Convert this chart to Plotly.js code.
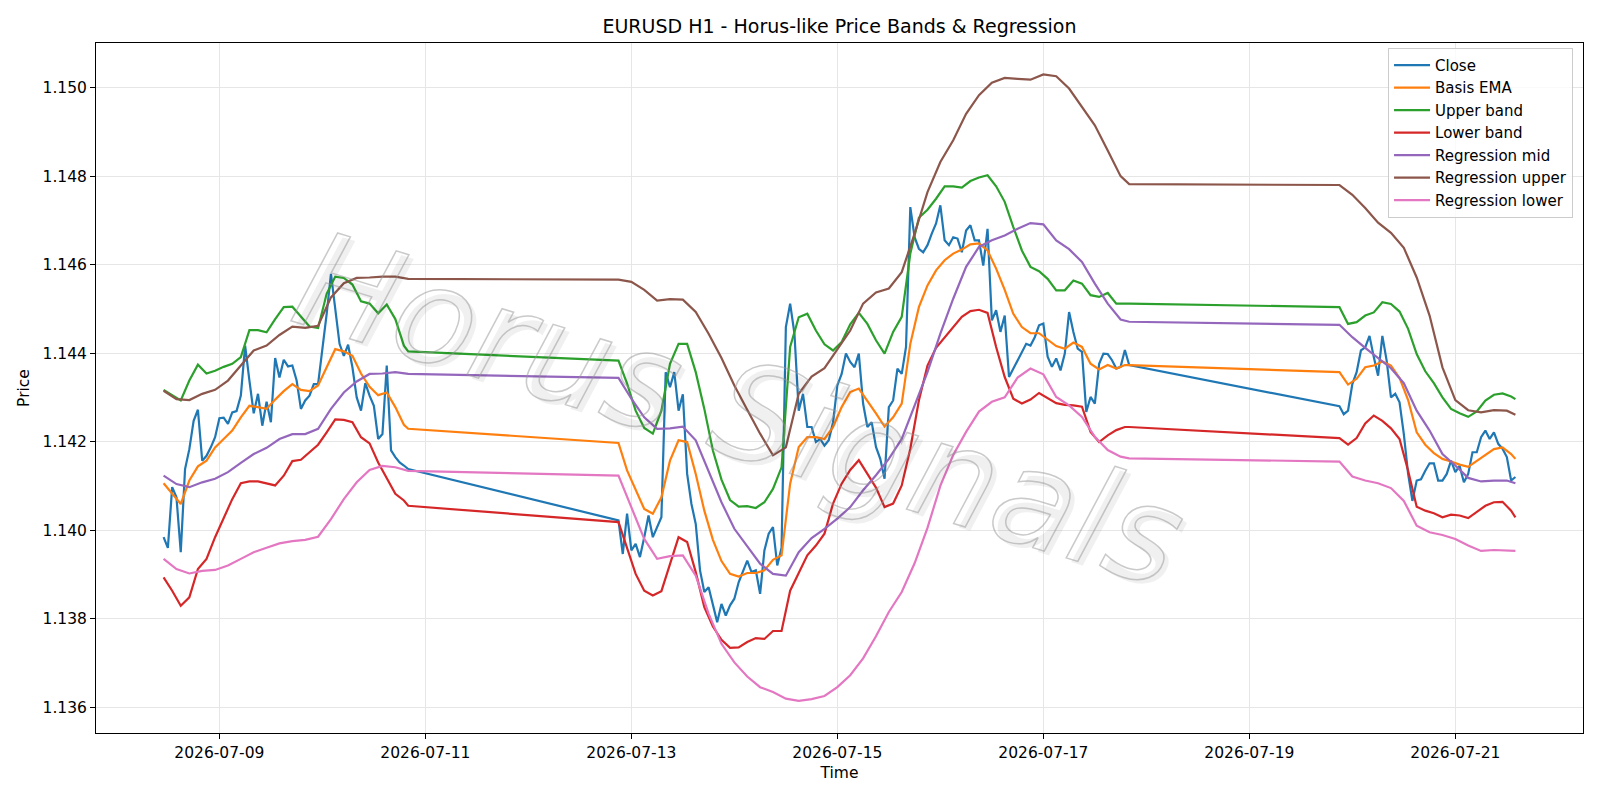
<!DOCTYPE html>
<html>
<head>
<meta charset="utf-8">
<script src="https://cdn.plot.ly/plotly-3.0.1.min.js"></script>
<style>
html,body{margin:0;padding:0;background:#fff;}
#chart{width:1600px;height:800px;}
</style>
</head>
<body>
<div id="chart"></div>
<script>
// ---- time structure (hour offsets from 2026-07-09 00:00) ----
const sessions = [[-13, 44], [93, 212], [261, 302]];

// ---- Close (hourly) ----
const closeS1 = [1.13984,1.13960,1.14097,1.14074,1.13950,1.14138,1.14183,1.14247,1.14272,1.14157,1.14168,1.14187,1.14210,
1.14253,1.14254,1.14240,1.14266,1.14269,1.14304,1.14417,1.14338,1.14264,1.14308,1.14236,1.14290,1.14244,1.14389,1.14345,
1.14385,1.14370,1.14372,1.14338,1.14274,1.14293,1.14304,1.14330,1.14330,1.14406,1.14489,1.14579,1.14504,1.14421,1.14394,
1.14419,1.14368,1.14300,1.14270,1.14332,1.14304,1.14281,1.14206,1.14217,1.14372,1.14180,1.14165,1.14153,1.14146,1.14138];
const closeS2 = [1.14022,1.13946,1.14037,1.13954,1.13969,1.13939,1.13984,1.14033,1.13984,1.14007,1.14029,1.14357,1.14323,
1.14357,1.14270,1.14307,1.14127,1.14059,1.14014,1.13909,1.13860,1.13871,1.13833,1.13792,1.13833,1.13807,1.13830,1.13845,
1.13882,1.13909,1.13931,1.13905,1.13909,1.13856,1.13954,1.13992,1.14007,1.13920,1.13960,1.14459,1.14512,1.14444,1.14270,
1.14308,1.14233,1.14233,1.14199,1.14206,1.14191,1.14203,1.14244,1.14327,1.14353,1.14399,1.14380,1.14368,1.14399,1.14286,
1.14233,1.14244,1.14188,1.14161,1.14116,1.14278,1.14293,1.14365,1.14353,1.14414,1.14730,1.14662,1.14636,1.14628,1.14644,
1.14670,1.14693,1.14734,1.14655,1.14644,1.14662,1.14659,1.14628,1.14677,1.14689,1.14655,1.14655,1.14598,1.14681,1.14474,
1.14497,1.14448,1.14485,1.14346,1.14365,1.14384,1.14402,1.14421,1.14417,1.14436,1.14463,1.14467,1.14392,1.14369,1.14388,
1.14361,1.14399,1.14493,1.14448,1.14410,1.14403,1.14267,1.14301,1.14286,1.14376,1.14399,1.14398,1.14384,1.14365,1.14369,
1.14407,1.14373];
const closeS3 = [1.14280,1.14262,1.14270,1.14330,1.14357,1.14406,1.14413,1.14439,1.14391,1.14349,1.14439,1.14383,1.14300,
1.14308,1.14289,1.14217,1.14127,1.14066,1.14112,1.14115,1.14134,1.14151,1.14151,1.14112,1.14112,1.14127,1.14157,1.14131,
1.14145,1.14108,1.14127,1.14176,1.14176,1.14210,1.14225,1.14206,1.14221,1.14195,1.14184,1.14165,1.14112,1.14120];

// ---- Bands (every 2 hours) ----
const emaS1 = [1.14106,1.14083,1.14059,1.14112,1.14144,1.14157,1.14187,1.14206,1.14225,1.14255,1.14281,1.14278,1.14274,1.14295,
1.14314,1.14330,1.14317,1.14314,1.14327,1.14368,1.14409,1.14404,1.14394,1.14354,1.14324,1.14305,1.14311,1.14278,1.14238,1.14229];
const emaS2 = [1.14197,1.14135,1.14090,1.14048,1.14037,1.14074,1.14157,1.14203,1.14199,1.14127,
1.14044,1.13978,1.13930,1.13901,1.13895,1.13903,1.13903,1.13909,1.13933,1.13943,
1.14105,1.14188,1.14210,1.14210,1.14206,1.14233,1.14278,1.14312,1.14320,1.14293,
1.14264,1.14234,1.14255,1.14286,1.14421,1.14504,1.14553,1.14587,1.14610,1.14625,
1.14634,1.14646,1.14648,1.14632,1.14591,1.14543,1.14489,1.14459,1.14445,1.14445,
1.14430,1.14416,1.14410,1.14424,1.14414,1.14376,1.14363,1.14373,1.14365,1.14373,1.14373];
const emaS3 = [1.14357,1.14329,1.14342,1.14368,1.14372,1.14381,1.14372,1.14344,1.14294,1.14221,1.14193,1.14174,1.14161,
1.14155,1.14148,1.14143,1.14157,1.14170,1.14183,1.14187,1.14172,1.14161];

const upperS1 = [1.14317,1.14304,1.14293,1.14338,1.14374,1.14354,1.14360,1.14369,1.14376,1.14391,1.14452,1.14452,1.14447,1.14477,
1.14504,1.14505,1.14482,1.14460,1.14457,1.14534,1.14573,1.14570,1.14555,1.14517,1.14512,1.14490,1.14510,1.14477,1.14417,1.14404];
const upperS2 = [1.14383,1.14331,1.14270,1.14231,1.14218,1.14270,1.14376,1.14421,1.14421,1.14357,
1.14274,1.14180,1.14114,1.14068,1.14053,1.14054,1.14050,1.14063,1.14093,1.14142,
1.14414,1.14481,1.14489,1.14451,1.14420,1.14406,1.14425,1.14465,1.14491,1.14466,
1.14429,1.14399,1.14448,1.14482,1.14625,1.14706,1.14724,1.14749,1.14777,1.14777,
1.14774,1.14789,1.14797,1.14802,1.14777,1.14742,1.14685,1.14632,1.14595,1.14585,
1.14568,1.14542,1.14542,1.14564,1.14557,1.14531,1.14527,1.14536,1.14512,1.14512,1.14512];
const upperS3 = [1.14504,1.14466,1.14470,1.14485,1.14492,1.14515,1.14511,1.14494,1.14455,1.14398,1.14359,1.14332,1.14300,
1.14274,1.14264,1.14256,1.14268,1.14293,1.14306,1.14309,1.14302,1.14296];

const lowerS1 = [1.13893,1.13863,1.13829,1.13848,1.13912,1.13935,1.13984,1.14029,1.14070,1.14106,1.14110,1.14110,1.14106,1.14101,
1.14123,1.14156,1.14159,1.14176,1.14193,1.14221,1.14250,1.14249,1.14244,1.14210,1.14196,1.14153,1.14116,1.14082,1.14067,1.14055];
const lowerS2 = [1.14018,1.13961,1.13901,1.13863,1.13852,1.13862,1.13924,1.13984,1.13973,1.13905,
1.13826,1.13782,1.13752,1.13734,1.13735,1.13747,1.13756,1.13754,1.13772,1.13772,
1.13863,1.13905,1.13943,1.13965,1.13992,1.14060,1.14105,1.14136,1.14158,1.14127,
1.14096,1.14052,1.14060,1.14101,1.14184,1.14293,1.14372,1.14412,1.14436,1.14459,
1.14482,1.14495,1.14498,1.14491,1.14414,1.14346,1.14297,1.14286,1.14295,1.14310,
1.14299,1.14287,1.14283,1.14282,1.14279,1.14222,1.14199,1.14214,1.14226,1.14233,1.14233];
const lowerS3 = [1.14208,1.14193,1.14208,1.14241,1.14259,1.14247,1.14230,1.14206,1.14134,1.14053,1.14044,1.14038,1.14029,
1.14035,1.14033,1.14027,1.14040,1.14055,1.14063,1.14064,1.14044,1.14029];

// ---- Regression (every 3 hours) ----
const regMidS1 = [1.14123,1.14104,1.14097,1.14108,1.14116,1.14131,1.14152,1.14172,1.14186,1.14206,1.14217,1.14217,1.14229,
1.14274,1.14311,1.14336,1.14353,1.14354,1.14357,1.14353];
const regMidS2 = [1.14344,1.14297,1.14255,1.14229,1.14230,1.14234,1.14203,1.14135,1.14063,1.14003,
1.13963,1.13924,1.13901,1.13897,1.13950,1.13982,1.14003,1.14026,1.14052,1.14090,
1.14124,1.14161,1.14206,1.14282,1.14357,1.14444,1.14523,1.14595,1.14640,1.14655,
1.14666,1.14681,1.14694,1.14691,1.14655,1.14635,1.14606,1.14557,1.14512,1.14476,1.14471];
const regMidS3 = [1.14464,1.14436,1.14412,1.14389,1.14366,1.14332,1.14270,1.14225,1.14172,1.14146,1.14118,1.14110,1.14112,
1.14112,1.14106];

const regUpS1 = [1.14315,1.14296,1.14294,1.14308,1.14317,1.14338,1.14372,1.14406,1.14417,1.14441,1.14460,1.14457,1.14462,
1.14526,1.14558,1.14570,1.14571,1.14573,1.14573,1.14568];
const regUpS2 = [1.14566,1.14561,1.14543,1.14519,1.14522,1.14521,1.14493,1.14444,1.14389,1.14327,
1.14272,1.14218,1.14169,1.14187,1.14308,1.14347,1.14366,1.14410,1.14451,1.14512,
1.14537,1.14546,1.14583,1.14670,1.14764,1.14832,1.14881,1.14941,1.14983,1.15011,
1.15022,1.15020,1.15018,1.15030,1.15026,1.14998,1.14955,1.14915,1.14858,1.14800,1.14782];
const regUpS3 = [1.14780,1.14758,1.14728,1.14695,1.14672,1.14638,1.14571,1.14485,1.14368,1.14294,1.14271,1.14266,1.14271,
1.14270,1.14261];

const regLoS1 = [1.13935,1.13912,1.13902,1.13908,1.13910,1.13920,1.13935,1.13950,1.13960,1.13970,1.13975,1.13978,1.13985,
1.14025,1.14070,1.14108,1.14136,1.14145,1.14142,1.14134];
const regLoS2 = [1.14123,1.14052,1.13980,1.13935,1.13941,1.13943,1.13897,1.13811,1.13743,1.13701,
1.13669,1.13645,1.13634,1.13619,1.13614,1.13618,1.13625,1.13645,1.13672,1.13710,
1.13760,1.13815,1.13860,1.13925,1.14005,1.14100,1.14170,1.14222,1.14268,1.14290,
1.14300,1.14345,1.14365,1.14352,1.14301,1.14282,1.14256,1.14211,1.14181,1.14166,1.14162];
const regLoS3 = [1.14155,1.14121,1.14112,1.14106,1.14095,1.14066,1.14010,1.13995,1.13989,1.13980,1.13965,1.13953,1.13955,
1.13953,1.13953];

const seriesNames = ['Close','Basis EMA','Upper band','Lower band','Regression mid','Regression upper','Regression lower'];
const seriesColors = ['#1f77b4','#ff7f0e','#2ca02c','#d62728','#9467bd','#8c564b','#e377c2'];
const xTickLabels = ['2026-07-09','2026-07-11','2026-07-13','2026-07-15','2026-07-17','2026-07-19','2026-07-21'];

// ---- build time axes ----
const BASE = Date.UTC(2026, 6, 9, 0, 0, 0);
function hourSeq(start, end, step) {
  const a = [];
  for (let h = start; h <= end; h += step) a.push(h);
  if (a[a.length - 1] !== end) a.push(end);
  return a;
}
function toTime(h) {
  return new Date(BASE + h * 3600000).toISOString().slice(0, 19).replace('T', ' ');
}
function timesFor(step) {
  return sessions.flatMap(s => hourSeq(s[0], s[1], step)).map(toTime);
}
const closeX = timesFor(1), bandX = timesFor(2), regX = timesFor(3);

const ys = [
  [closeX, closeS1.concat(closeS2, closeS3)],
  [bandX, emaS1.concat(emaS2, emaS3)],
  [bandX, upperS1.concat(upperS2, upperS3)],
  [bandX, lowerS1.concat(lowerS2, lowerS3)],
  [regX, regMidS1.concat(regMidS2, regMidS3)],
  [regX, regUpS1.concat(regUpS2, regUpS3)],
  [regX, regLoS1.concat(regLoS2, regLoS3)]
];

const traces = ys.map((p, i) => ({
  type: 'scatter', mode: 'lines', x: p[0], y: p[1], name: seriesNames[i],
  legendgroup: 'g' + i,
  line: {color: seriesColors[i], width: 2.2}
}));

const FONT = 'DejaVu Sans, Verdana, sans-serif';
const TF = 15.5;
const layout = {
  width: 1600, height: 800,
  paper_bgcolor: '#ffffff', plot_bgcolor: '#ffffff',
  margin: {l: 96, r: 17, t: 43, b: 67, pad: 0},
  font: {family: FONT, size: TF, color: '#000'},
  title: {text: 'EURUSD H1 - Horus-like Price Bands & Regression', font: {family: FONT, size: 19, color: '#000'},
          x: 0.5, xref: 'paper', xanchor: 'center', y: 1 - 26 / 800, yref: 'container', yanchor: 'middle'},
  showlegend: true,
  legend: {x: 0.9933, y: 0.993, xanchor: 'right', yanchor: 'top', bgcolor: 'rgba(255,255,255,0.8)',
           bordercolor: '#cccccc', borderwidth: 1, font: {family: FONT, size: 15, color: '#000'},
           tracegroupgap: 0, itemwidth: 36},
  xaxis: {type: 'date', range: ['2026-07-07 19:15', '2026-07-22 05:45'],
          tickvals: xTickLabels, ticktext: xTickLabels,
          showline: true, linecolor: '#000', linewidth: 1, mirror: true,
          ticks: 'outside', ticklen: 5, tickcolor: '#000', tickwidth: 1,
          showgrid: true, gridcolor: '#e6e6e6', gridwidth: 1, zeroline: false,
          tickfont: {family: FONT, size: TF, color: '#000'},
          title: {text: 'Time', font: {family: FONT, size: TF, color: '#000'}, standoff: 6}},
  yaxis: {range: [1.135414, 1.15101], tick0: 1.136, dtick: 0.002, tickformat: '.3f',
          showline: true, linecolor: '#000', linewidth: 1, mirror: true,
          ticks: 'outside', ticklen: 5, tickcolor: '#000', tickwidth: 1,
          showgrid: true, gridcolor: '#e6e6e6', gridwidth: 1, zeroline: false,
          tickfont: {family: FONT, size: TF, color: '#000'},
          title: {text: 'Price', font: {family: FONT, size: TF, color: '#000'}, standoff: 9}},
  annotations: [
    {text: 'Horus Signals', xref: 'paper', yref: 'paper', x: 0.436, y: 0.463, showarrow: false,
     textangle: 17, font: {family: FONT, size: 134, style: 'italic', color: 'rgba(0,0,0,0.06)'}},
    {text: 'Horus Signals', xref: 'paper', yref: 'paper', x: 0.433, y: 0.468, showarrow: false,
     textangle: 17, font: {family: FONT, size: 134, style: 'italic', color: 'rgba(255,255,255,0.0)'}}
  ]
};

Plotly.newPlot('chart', traces, layout, {displayModeBar: false, staticPlot: true}).then(gd => {
  const anns = gd.querySelectorAll('.annotation-text');
  if (anns.length > 1) {
    const t = anns[1];
    t.style.fill = 'none';
    t.style.stroke = 'rgba(150,150,150,0.5)';
    t.style.strokeWidth = '1.5px';
  }
});
</script>
</body>
</html>
